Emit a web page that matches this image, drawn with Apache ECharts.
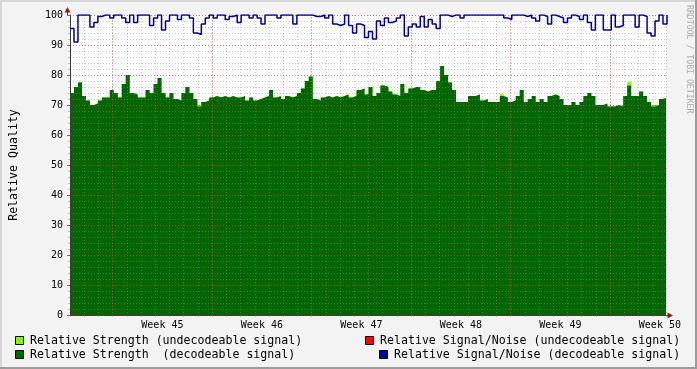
<!DOCTYPE html>
<html><head><meta charset="utf-8">
<script src="https://cdn.jsdelivr.net/npm/echarts@6/dist/echarts.min.js"></script>
<style>html,body{margin:0;padding:0;background:#f3f3f3;overflow:hidden}#c{width:697px;height:369px}</style>
</head><body><div id="c"></div><script>
// one sample every 4 px of the original plot = 0.28 day
const sampleStepDays = 0.28;

const strengthDecodeable = [
  74,76,77.5,73,71.5,70,70.5,71.5,72.5,72.5,
  75,74,72.5,77,80,74,73.5,72.5,72.5,75,
  74,77,79,74,72.5, 74,72,71.5,74,76,
  74,72,69.5,71,71.5, 72.5,73,72.5,73,72.5,
  73,72.5,72.5,73,71.5, 72.5,71.5,72,72.5,73,
  75,72.5,73,72,73, 72.5,73,74,75.5,78,
  79.5,72,71.5,72.5,73, 72.5,73,72.5,73,73.5,
  72.5,73,75,75.5,73.5, 76,73,74,76.5,76,
  74.5,73.5,73,77,74, 75.5,76,76,75,74.5,
  75,75,78,83,80, 77.5,75,71,71,71,
  73,73,73.5,71.5,72, 71,71,71,73,72.5,
  71,71.5,73,75,71, 72,73,71,72,71,
  73,73.5,73,72,70, 70,71,70,71,73,
  74,73,70,70,70.5, 69.5,69.5,70,69.5,73,
  76.5,73,73,74.5,73, 71,69.5,70,72,72.5,
  72.5
];

const strengthUndecodeable = [
  0,0,0,0,0,0,0,0,0,0,
  0,0,0,0,0,0,0,0,0,0,
  0,0,0,0,0,0,0,0,0,0,
  0,0,0.7,0,0,0,0,0,0,0,
  0,0,0,0,0,0,0,0,0,0,
  0,0,0,0,0,0,0,0,0,0,
  0,0,0,0,0,0,0,0,0,0,
  0,0,0,0,0,0,0,0,0,0,
  0,0,0,0,0,0,0,0,0,0,
  0,0,0,0,0,0,0,0,0,0,
  0,0,0,0,0,0,0,0,0.6,0,
  0,0,0,0,0,0,0,0,0,0,
  0,0,0,0,0,0,0,0,0,0,
  0,0,0,0,0,0,0,0,0,0,
  1.2,0,0,0,0,0,0.5,0,0,0,
  0
];

const snrDecodeable = [
  95.5,91,100,100,100,96,97.5,99.5,100,100,
  99,100,100,99,97.5,100,97.5,100,100,100,
  96.5,99,100,95,98, 100,100,98.5,100,100,
  99,94,93.5,97,99, 100,99,100,100,98.5,
  99.5,100,97.5,100,100, 99,100,99,97,100,
  100,100,99,100,100, 100,97,100,100,100,
  100,99.5,99.5,100,99, 100,97,96.5,97,100,
  96.5,94,97,96.5,92.5, 94.5,92,98,96.5,99,
  97.5,98,99,100,93, 96,97,96,99.5,96,
  98.5,97,95.5,100,100, 99.5,100,100,99,100,
  100,100,100,100,100, 100,100,100,100,99,
  98.5,100,100,100,99.5, 100,99,98,100,99.5,
  97,100,99.5,99,97.5, 99,100,99.5,98.5,100,
  97.5,95,100,100,95, 95,100,96,96.5,100,
  100,100,96,100,99.5, 94,93,98,100,97,
  100
];

const snrUndecodeable = [];

const weekStartDays = [3, 10, 17, 24, 31, 38];
const weekLabelDays = [6.5, 13.5, 20.5, 27.5, 34.5, 41.5];
const weekLabels = ['Week 45', 'Week 46', 'Week 47', 'Week 48', 'Week 49', 'Week 50'];

const seriesNames = [
  'Relative Strength (undecodeable signal)',
  'Relative Strength  (decodeable signal)',
  'Relative Signal/Noise (undecodeable signal)',
  'Relative Signal/Noise (decodeable signal)'
];
const seriesColors = ['#7fff00', '#006600', '#ff0000', '#000099'];

const xMaxDays = 41.93;
const MONO = '"DejaVu Sans Mono", monospace';
const MINOR = 'rgba(140,140,140,0.45)';
const MAJOR = 'rgba(200,40,40,0.45)';

const toPairs = arr => arr.map((v, i) => [+(i * sampleStepDays).toFixed(4), v]);
// undecodeable strength sits on top of the decodeable area
const strengthTotal = strengthDecodeable.map((v, i) => v + strengthUndecodeable[i]);

const chart = echarts.init(document.getElementById('c'), null, {renderer: 'canvas'});

const legendItems = [
  {sq: [15, 336], tx: [30, 341], idx: 0},
  {sq: [15, 350], tx: [30, 355], idx: 1},
  {sq: [365, 336], tx: [380, 341], idx: 2},
  {sq: [379, 350], tx: [394, 355], idx: 3}
];

const graphics = [];
legendItems.forEach(it => {
  graphics.push({type: 'rect', silent: true, shape: {x: it.sq[0] + 0.5, y: it.sq[1] + 0.5, width: 8, height: 8},
    style: {fill: seriesColors[it.idx], stroke: '#000', lineWidth: 1}});
  graphics.push({type: 'text', silent: true, x: it.tx[0], y: it.tx[1],
    style: {text: seriesNames[it.idx], font: '11.6px ' + MONO, fill: '#000', verticalAlign: 'middle', textVerticalAlign: 'middle'}});
});
// frame shading
graphics.push({type: 'rect', silent: true, shape: {x: 0, y: 0, width: 697, height: 2}, style: {fill: '#d6d6d6'}});
graphics.push({type: 'rect', silent: true, shape: {x: 0, y: 0, width: 2, height: 369}, style: {fill: '#d6d6d6'}});
graphics.push({type: 'rect', silent: true, shape: {x: 695, y: 0, width: 2, height: 369}, style: {fill: '#9c9c9c'}});
graphics.push({type: 'rect', silent: true, shape: {x: 0, y: 367, width: 697, height: 2}, style: {fill: '#9c9c9c'}});
// axis arrows
graphics.push({type: 'line', silent: true, z: 10, shape: {x1: 67.5, y1: 10, x2: 67.5, y2: 15}, style: {stroke: '#3a3a3a', lineWidth: 1}});
graphics.push({type: 'polygon', silent: true, z: 10, shape: {points: [[64.5, 12.5], [70.5, 12.5], [67.5, 7]]}, style: {fill: '#8f1e1e'}});
graphics.push({type: 'line', silent: true, z: 10, shape: {x1: 666, y1: 315.5, x2: 669, y2: 315.5}, style: {stroke: '#3a3a3a', lineWidth: 1}});
graphics.push({type: 'polygon', silent: true, z: 10, shape: {points: [[667.5, 312.5], [667.5, 318.5], [673, 315.5]]}, style: {fill: '#8f1e1e'}});
// watermark
graphics.push({type: 'text', silent: true, x: 689, y: 5, rotation: -Math.PI / 2,
  style: {text: 'RRDTOOL / TOBI OETIKER', font: '8.2px ' + MONO, fill: '#aaaaaa', align: 'left', verticalAlign: 'middle', textVerticalAlign: 'middle'}});

const majorVLines = weekStartDays.map(d => [
  {coord: [d, 0]}, {coord: [d, 100]}
]);

chart.setOption({
  animation: false,
  backgroundColor: '#f3f3f3',
  grid: {left: 67, top: 15, width: 599, height: 300, show: true, backgroundColor: '#ffffff', borderWidth: 0, containLabel: false},
  xAxis: [
    {type: 'value', position: 'bottom', min: 0, max: xMaxDays, interval: 1, zlevel: 1,
      axisLine: {show: true, onZero: false, lineStyle: {color: '#3a3a3a', width: 1}},
      axisTick: {show: true, length: 2, lineStyle: {color: MINOR}},
      axisLabel: {show: false},
      splitLine: {show: true, lineStyle: {color: MINOR, type: [1, 2], width: 1}}},
    {type: 'value', position: 'bottom', offset: 0, min: 0, max: xMaxDays, interval: 0.5, zlevel: 1,
      axisLine: {show: false}, axisTick: {show: false}, splitLine: {show: false},
      axisLabel: {show: true, margin: 5, color: '#000', fontFamily: MONO, fontSize: 10,
        formatter: v => { const k = weekLabelDays.findIndex(d => Math.abs(d - v) < 1e-6); return k >= 0 ? weekLabels[k] : ''; }}}
  ],
  yAxis: [
    {type: 'value', position: 'left', min: 0, max: 100, interval: 2, zlevel: 1,
      name: 'Relative Quality', nameLocation: 'middle', nameGap: 50, nameRotate: 90,
      nameTextStyle: {fontFamily: MONO, fontSize: 11.6, color: '#000'},
      axisLine: {show: true, onZero: false, lineStyle: {color: '#3a3a3a', width: 1}},
      axisTick: {show: true, length: 2, lineStyle: {color: MINOR}},
      axisLabel: {show: true, margin: 7, color: '#000', fontFamily: MONO, fontSize: 10,
        formatter: v => (Math.round(v) % 10 === 0 ? String(v) : '')},
      splitLine: {show: true, lineStyle: {color: MINOR, type: [1, 2], width: 1}}},
    {type: 'value', position: 'left', offset: 0, min: 0, max: 100, interval: 10, zlevel: 1, z: 4,
      axisLine: {show: false}, axisLabel: {show: false},
      axisTick: {show: true, length: 3, lineStyle: {color: 'rgba(160,30,30,0.7)'}},
      splitLine: {show: true, lineStyle: {color: MAJOR, type: [1, 2], width: 1}}}
  ],
  graphic: graphics,
  series: [
    {name: seriesNames[0], type: 'line', step: 'end', xAxisIndex: 0, yAxisIndex: 0, z: 1,
      data: toPairs(strengthTotal), symbol: 'none', showSymbol: false,
      lineStyle: {width: 0}, areaStyle: {color: seriesColors[0], opacity: 1}},
    {name: seriesNames[1], type: 'line', step: 'end', xAxisIndex: 0, yAxisIndex: 0, z: 2,
      data: toPairs(strengthDecodeable), symbol: 'none', showSymbol: false,
      lineStyle: {width: 0}, areaStyle: {color: seriesColors[1], opacity: 1}},
    {name: 'weekGrid', type: 'line', xAxisIndex: 0, yAxisIndex: 0, zlevel: 1, z: 5,
      data: [], symbol: 'none',
      markLine: {silent: true, symbol: ['none', 'none'], label: {show: false}, animation: false,
        lineStyle: {color: MAJOR, type: [1, 2], width: 1}, data: majorVLines}},
    {name: seriesNames[2], type: 'line', step: 'end', xAxisIndex: 0, yAxisIndex: 0, zlevel: 2,
      data: toPairs(snrUndecodeable), symbol: 'none', showSymbol: false,
      lineStyle: {width: 1.5, color: seriesColors[2]}},
    {name: seriesNames[3], type: 'line', step: 'end', xAxisIndex: 0, yAxisIndex: 0, zlevel: 2,
      data: toPairs(snrDecodeable), symbol: 'none', showSymbol: false,
      lineStyle: {width: 1.5, color: seriesColors[3]}}
  ]
});
</script></body></html>
